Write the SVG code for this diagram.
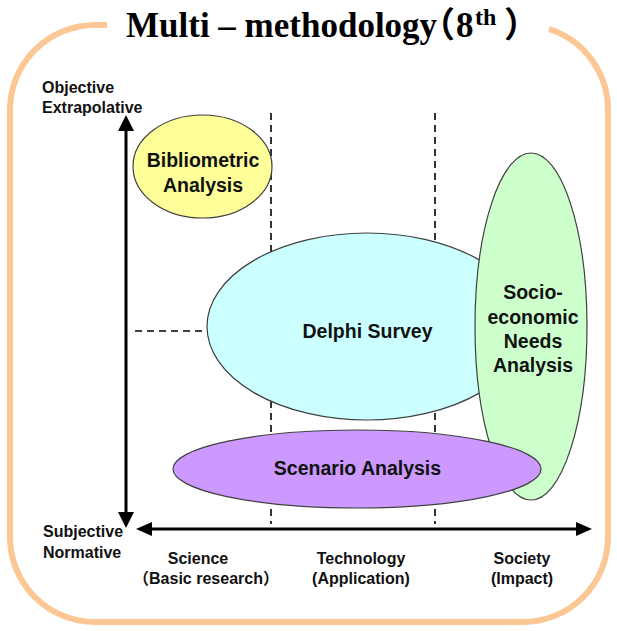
<svg xmlns="http://www.w3.org/2000/svg" width="617" height="631" viewBox="0 0 617 631">
<style>
  .frame { fill: none; stroke: #FAC795; stroke-width: 6; }
  .title { font-family: "Liberation Serif", "Times New Roman", serif; font-weight: bold; font-size: 35px; fill: #000; }
  .cjk { font-family: "Noto Sans CJK JP", "Liberation Serif", serif; }
  .lbl { font-family: "Liberation Sans", Arial, sans-serif; font-weight: bold; font-size: 16px; fill: #111; }
  .node-lbl { font-family: "Liberation Sans", Arial, sans-serif; font-weight: bold; font-size: 19.5px; fill: #111; text-anchor: middle; }
  .dash { stroke: #000; stroke-width: 1.6; stroke-dasharray: 7 5; fill: none; }
  .node { stroke: #404040; stroke-width: 1.2; }
  .axis { stroke: #000; stroke-width: 3; fill: none; }
  .head { fill: #000; }
</style>

<path class="frame" d="M107 25 H95 A85 85 0 0 0 10 110 V537 A85 85 0 0 0 95 622 H523 A85 85 0 0 0 608 537 V110 A85 85 0 0 0 549 29"/>

<text class="title" y="37"><tspan x="126">Multi – methodology</tspan><tspan class="cjk" x="420">（</tspan><tspan x="456">8</tspan><tspan x="475" dy="-12" font-size="24">th</tspan><tspan class="cjk" x="504" dy="12">）</tspan></text>

<g id="connectors">
  <line class="dash" x1="271" y1="113" x2="271" y2="524"/>
  <line class="dash" x1="435" y1="113" x2="435" y2="524"/>
  <line class="dash" x1="135" y1="331" x2="590" y2="331"/>
</g>

<g id="delphi">
  <ellipse class="node" cx="367" cy="326.5" rx="160" ry="93.5" fill="#CCFFFF"/>
  <text class="node-lbl" x="367.5" y="338">Delphi Survey</text>
</g>

<g id="socio">
  <ellipse class="node" cx="531" cy="326.5" rx="56" ry="173.5" fill="#CCFFCC"/>
  <text class="node-lbl" x="533" y="299">Socio-</text>
  <text class="node-lbl" x="533" y="324">economic</text>
  <text class="node-lbl" x="533" y="348">Needs</text>
  <text class="node-lbl" x="533" y="372">Analysis</text>
</g>

<g id="scenario">
  <ellipse class="node" cx="357" cy="469" rx="184" ry="39" fill="#CC99FF"/>
  <text class="node-lbl" x="357.5" y="475">Scenario Analysis</text>
</g>

<g id="bibliometric">
  <ellipse class="node" cx="202.5" cy="166.5" rx="69.5" ry="51.5" fill="#FFFF99"/>
  <text class="node-lbl" x="203" y="167">Bibliometric</text>
  <text class="node-lbl" x="203" y="192">Analysis</text>
</g>

<g id="axes">
  <line class="axis" x1="126" y1="129" x2="126" y2="515"/>
  <polygon class="head" points="126,115 134,131 118,131"/>
  <polygon class="head" points="126,528 134,512 118,512"/>
  <line class="axis" x1="150" y1="529" x2="578" y2="529"/>
  <polygon class="head" points="136,529 152,522 152,536"/>
  <polygon class="head" points="592,529 576,522 576,536"/>
</g>

<g id="axis-labels">
  <text class="lbl" x="42" y="93">Objective</text>
  <text class="lbl" x="42" y="113">Extrapolative</text>
  <text class="lbl" x="43" y="537">Subjective</text>
  <text class="lbl" x="43" y="558">Normative</text>
  <text class="lbl" x="198" y="564" text-anchor="middle">Science</text>
  <text class="lbl" x="206" y="584" text-anchor="middle"><tspan class="cjk">（</tspan>Basic research<tspan class="cjk">）</tspan></text>
  <text class="lbl" x="361" y="564" text-anchor="middle">Technology</text>
  <text class="lbl" x="361" y="584" text-anchor="middle">(Application)</text>
  <text class="lbl" x="522" y="564" text-anchor="middle">Society</text>
  <text class="lbl" x="522" y="584" text-anchor="middle">(Impact)</text>
</g>
</svg>
